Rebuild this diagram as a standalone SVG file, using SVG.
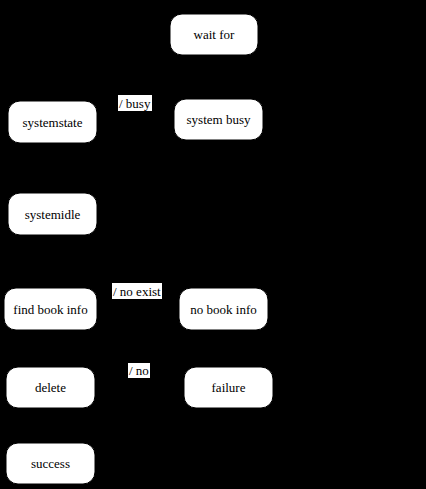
<svg xmlns="http://www.w3.org/2000/svg" width="426" height="489" viewBox="0 0 426 489" font-family="'Liberation Serif', 'DejaVu Serif', serif">
<style>
.n{fill:#fff;stroke:#000;stroke-width:1}
.t{font-size:13px;fill:#000;text-anchor:middle}
.lb{fill:#fff}
.lt{font-size:13px;fill:#000}
.c{stroke:#000;stroke-width:1;fill:none}
</style>
<defs>
<marker id="ah" markerWidth="8" markerHeight="8" refX="7" refY="4" orient="auto" markerUnits="userSpaceOnUse">
<path d="M0,0 L7,4 L0,8 Z" fill="#000"/>
</marker>
</defs>
<rect width="426" height="489" fill="#000"/>
<g id="wait-for"><rect class="n" x="170" y="14" width="88" height="41" rx="12"/><text class="t" x="214" y="38.5">wait for</text></g>
<g id="systemstate"><rect class="n" x="8" y="101" width="89" height="42" rx="12"/><text class="t" x="52.5" y="126.5">systemstate</text></g>
<g id="system-busy"><rect class="n" x="174" y="99" width="89" height="41" rx="12"/><text class="t" x="218.5" y="124">system busy</text></g>
<g id="systemidle"><rect class="n" x="8" y="193" width="89" height="42" rx="12"/><text class="t" x="52.5" y="218.5">systemidle</text></g>
<g id="find-book-info"><rect class="n" x="4" y="288" width="93" height="42" rx="12"/><text class="t" x="50.5" y="313.5">find book info</text></g>
<g id="no-book-info"><rect class="n" x="179" y="288" width="89" height="42" rx="12"/><text class="t" x="223.5" y="313.5">no book info</text></g>
<g id="delete"><rect class="n" x="6" y="367" width="89" height="41" rx="12"/><text class="t" x="50.5" y="392">delete</text></g>
<g id="failure"><rect class="n" x="184" y="367" width="89" height="41" rx="12"/><text class="t" x="228.5" y="392">failure</text></g>
<g id="success"><rect class="n" x="6" y="443" width="89" height="41" rx="12"/><text class="t" x="50.5" y="468">success</text></g>
<g id="connectors">
<line class="c" x1="97" y1="122" x2="174" y2="120" marker-end="url(#ah)"/>
<line class="c" x1="220" y1="99" x2="220" y2="55" marker-end="url(#ah)"/>
<line class="c" x1="97" y1="309" x2="179" y2="309" marker-end="url(#ah)"/>
<line class="c" x1="95" y1="387" x2="184" y2="387" marker-end="url(#ah)"/>
<rect class="lb" x="118" y="95" width="34" height="16"/><text class="lt" x="119" y="107.5">/ busy</text>
<rect class="lb" x="112" y="283" width="50" height="16"/><text class="lt" x="113" y="295.5">/ no exist</text>
<rect class="lb" x="128" y="363" width="22" height="15"/><text class="lt" x="129" y="375">/ no</text>
</g>
</svg>
